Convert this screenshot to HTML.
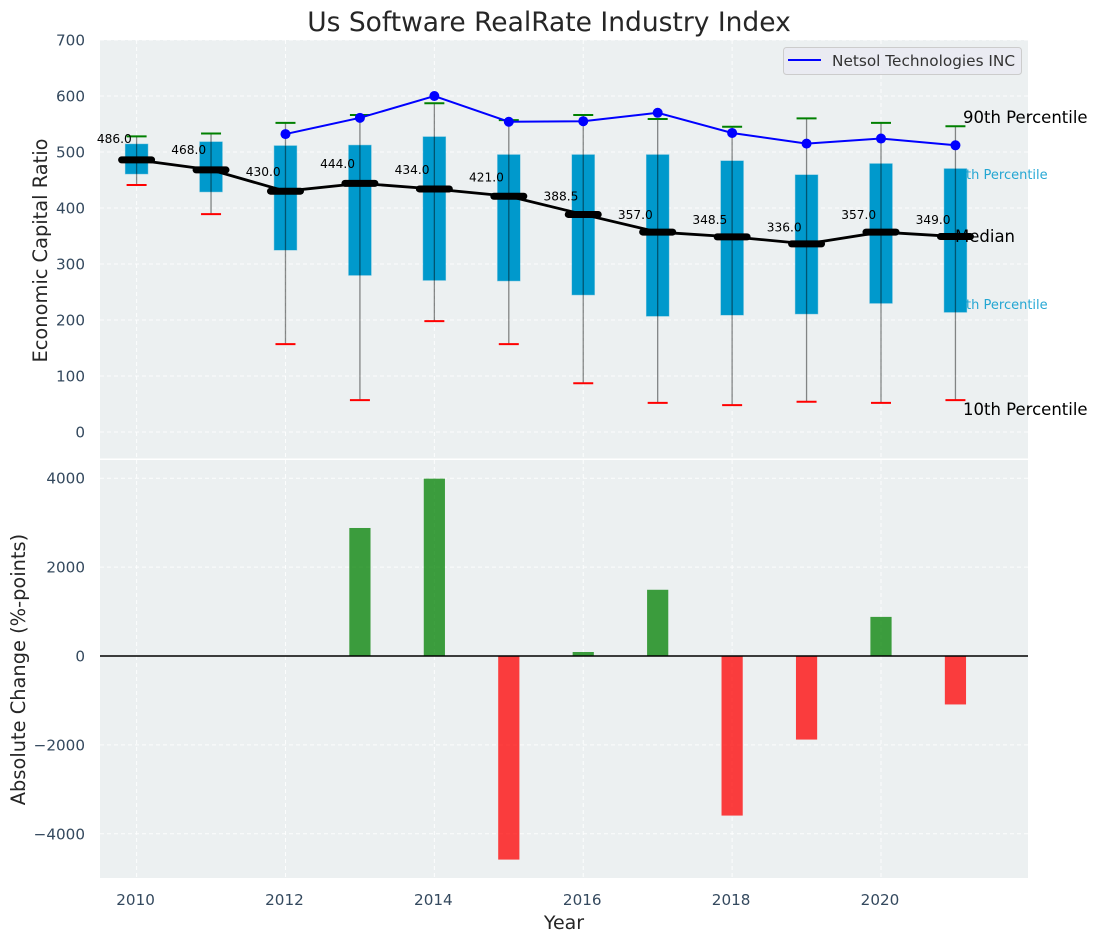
<!DOCTYPE html>
<html lang="en">
<head>
<meta charset="utf-8">
<title>Us Software RealRate Industry Index</title>
<style>
  html, body { margin: 0; padding: 0; background: #fff; }
  body { width: 1098px; height: 942px; overflow: hidden; }
  svg { display: block; font-family: "DejaVu Sans", sans-serif; }
</style>
</head>
<body>
<svg id="chart" xmlns="http://www.w3.org/2000/svg" width="1098" height="942" viewBox="0 0 1098 942">
  <rect x="100" y="40" width="928" height="418.5" fill="#ecf0f1"/>
  <rect x="100" y="460" width="928" height="418" fill="#ecf0f1"/>
  <g id="grid"></g>
  <g id="ticks"></g>
  <text x="549" y="31" font-size="26.5" text-anchor="middle" fill="#262626">Us Software RealRate Industry Index</text>
  <text transform="translate(47 250.5) rotate(-90)" font-size="19.4" text-anchor="middle" fill="#262626">Economic Capital Ratio</text>
  <text transform="translate(25 669.5) rotate(-90)" font-size="19.4" text-anchor="middle" fill="#262626">Absolute Change (%-points)</text>
  <text x="564" y="929" font-size="19" text-anchor="middle" fill="#262626">Year</text>
  <text x="949.5" y="179" font-size="13" fill="#0099cc" fill-opacity="0.85">75th Percentile</text>
  <text x="949.5" y="309" font-size="13" fill="#0099cc" fill-opacity="0.85">25th Percentile</text>
  <g id="marks"></g>
  <text x="963" y="123" font-size="16.5" fill="#000">90th Percentile</text>
  <text x="955" y="242" font-size="16.5" fill="#000">Median</text>
  <text x="963" y="415" font-size="16.5" fill="#000">10th Percentile</text>
  <g>
    <rect x="783.5" y="47.5" width="238" height="27" rx="3" fill="#eaeaf2" fill-opacity="0.8" stroke="#cccccc" stroke-width="1"/>
    <line x1="788" y1="60" x2="821" y2="60" stroke="#0000ff" stroke-width="2"/>
    <text x="832" y="66" font-size="15.3" fill="#333333">Netsol Technologies INC</text>
  </g>
</svg>
<script>
const years = [2010, 2011, 2012, 2013, 2014, 2015, 2016, 2017, 2018, 2019, 2020, 2021];
const p10 = [441, 389, 157, 57, 198, 157, 87, 52, 48, 54, 52, 57];
const p25 = [461, 429, 325, 280, 271, 270, 245, 207, 209, 211, 230, 214];
const median = [486, 468, 430, 444, 434, 421, 388.5, 357, 348.5, 336, 357, 349];
const p75 = [514, 518, 511, 512, 527, 495, 495, 495, 484, 459, 479, 470];
const p90 = [528, 533, 552, 566, 587, 557, 566, 559, 545, 560, 552, 546];
const company = [null, null, 532, 561, 600, 554, 555, 570, 534, 515, 524, 512];
const absoluteChange = [null, null, null, 2880, 3990, -4580, 90, 1490, -3590, -1880, 880, -1090];
const xTicks = [2010, 2012, 2014, 2016, 2018, 2020];
const topYTicks = [0, 100, 200, 300, 400, 500, 600, 700];
const bottomYTicks = [-4000, -2000, 0, 2000, 4000];

const xScale = v => 136.6 + 74.44 * (v - 2010);
const yTop = v => 432 - 0.56 * v;
const yBottom = v => 656 - 0.04445 * v;
const SVGNS = 'http://www.w3.org/2000/svg';

function make(parent, tag, attrs, content) {
  const el = document.createElementNS(SVGNS, tag);
  for (const k in attrs) el.setAttribute(k, attrs[k]);
  if (content !== undefined) el.textContent = content;
  parent.appendChild(el);
  return el;
}

const gridG = document.getElementById('grid');
const ticksG = document.getElementById('ticks');
const marksG = document.getElementById('marks');
const gridStyle = { stroke: '#ffffff', 'stroke-width': 1, 'stroke-dasharray': '4 3', 'stroke-opacity': 0.85 };
const tickColor = '#34495e';
const tickFont = 15.2;

xTicks.forEach(t => {
  const a = make(gridG, 'line', { x1: xScale(t), x2: xScale(t), y1: 40, y2: 458.5, ...gridStyle });
  
  
  const b = make(gridG, 'line', { x1: xScale(t), x2: xScale(t), y1: 460, y2: 878, ...gridStyle });
  
  
  const l = make(ticksG, 'text', { x: xScale(t) - 1, y: 905, 'font-size': tickFont, 'text-anchor': 'middle', fill: tickColor }, String(t));
  
  
});

topYTicks.forEach(t => {
  const g = make(gridG, 'line', { x1: 100, x2: 1028, y1: yTop(t), y2: yTop(t), ...gridStyle });
  
  
  const l = make(ticksG, 'text', { x: 85, y: yTop(t) + 5.5, 'font-size': tickFont, 'text-anchor': 'end', fill: tickColor }, String(t));
  
  
});

bottomYTicks.forEach(t => {
  const g = make(gridG, 'line', { x1: 100, x2: 1028, y1: yBottom(t), y2: yBottom(t), ...gridStyle });
  
  
  const l = make(ticksG, 'text', { x: 85, y: yBottom(t) + 5.5, 'font-size': tickFont, 'text-anchor': 'end', fill: tickColor }, String(t).replace('-', '\u2212'));
  
  
});

years.forEach((yr, i) => {
  const cx = xScale(yr);
  const box = make(marksG, 'rect', {
    x: cx - 11.2, y: yTop(p75[i]), width: 22.4, height: yTop(p25[i]) - yTop(p75[i]),
    fill: '#0099cc', stroke: '#0099cc', 'stroke-opacity': 0.45, 'stroke-width': 1
  });
  
  
});

years.forEach((yr, i) => {
  const cx = xScale(yr);
  const w = make(marksG, 'line', {
    x1: cx, x2: cx, y1: yTop(p90[i]), y2: yTop(p10[i]),
    stroke: '#000000', 'stroke-opacity': 0.45, 'stroke-width': 1.3
  });
  
  
  const hi = make(marksG, 'line', {
    x1: cx - 10, x2: cx + 10, y1: yTop(p90[i]), y2: yTop(p90[i]), stroke: '#008000', 'stroke-width': 2
  });
  
  
  const lo = make(marksG, 'line', {
    x1: cx - 10, x2: cx + 10, y1: yTop(p10[i]), y2: yTop(p10[i]), stroke: '#ff0000', 'stroke-width': 2
  });
  
  
});

const medianLine = make(marksG, 'polyline', {
  points: years.map((yr, i) => xScale(yr) + ',' + yTop(median[i])).join(' '),
  fill: 'none', stroke: '#000000', 'stroke-width': 2.8
});



years.forEach((yr, i) => {
  const cx = xScale(yr);
  const m = make(marksG, 'line', {
    x1: cx - 15, x2: cx + 15, y1: yTop(median[i]), y2: yTop(median[i]),
    stroke: '#000000', 'stroke-width': 7, 'stroke-linecap': 'round'
  });
  
  
  const lab = make(marksG, 'text', {
    x: xScale(yr - 0.3), y: yTop(median[i] * 1.05) - 3, 'font-size': 12.2, 'text-anchor': 'middle', fill: '#000000'
  }, median[i].toFixed(1));
  
  
});

const companyPts = years.map((yr, i) => company[i] === null ? null : [xScale(yr), yTop(company[i])]).filter(Boolean);
const companyLine = make(marksG, 'polyline', {
  points: companyPts.map(p => p.join(',')).join(' '),
  fill: 'none', stroke: '#0000ff', 'stroke-width': 2
});



years.forEach((yr, i) => {
  if (company[i] === null) return;
  const d = make(marksG, 'circle', { cx: xScale(yr), cy: yTop(company[i]), r: 5, fill: '#0000ff' });
  
  
});

years.forEach((yr, i) => {
  const v = absoluteChange[i];
  if (v === null) return;
  const b = make(marksG, 'rect', {
    x: xScale(yr) - 10.6, width: 21.2,
    y: Math.min(yBottom(v), yBottom(0)), height: Math.abs(yBottom(v) - yBottom(0)),
    fill: v >= 0 ? '#008000' : '#ff0000', 'fill-opacity': 0.75
  });
  
  
});

const zeroLine = make(marksG, 'line', { x1: 100, x2: 1028, y1: yBottom(0), y2: yBottom(0), stroke: '#000000', 'stroke-width': 1.5 });


</script>
</body>
</html>
